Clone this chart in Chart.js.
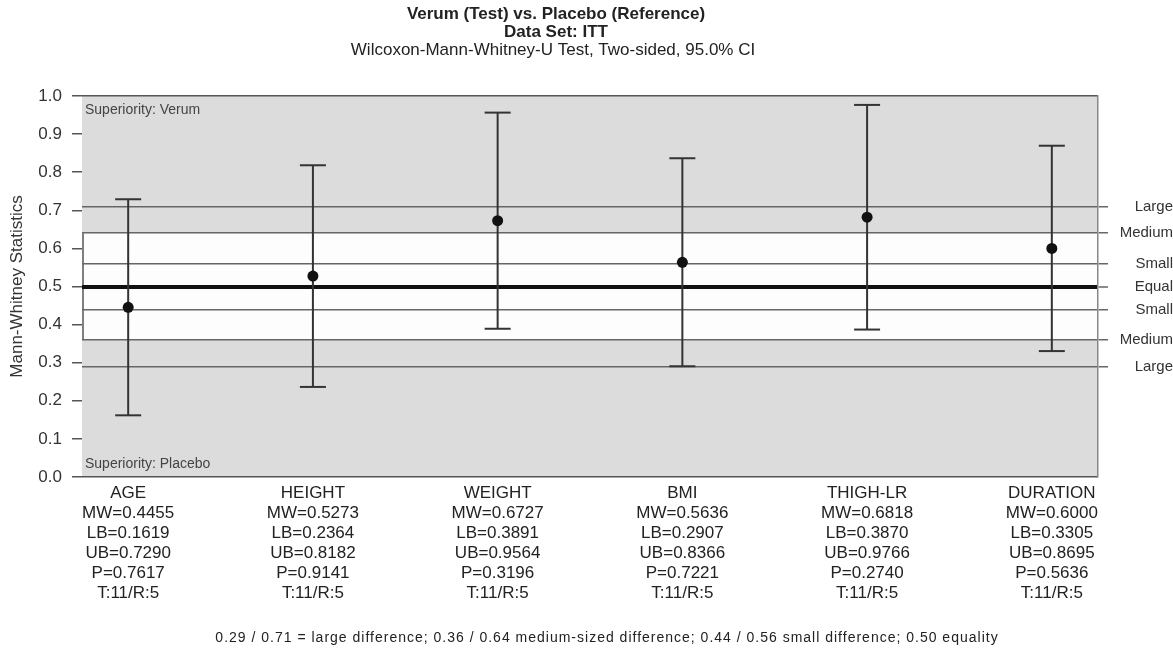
<!DOCTYPE html>
<html>
<head>
<meta charset="utf-8">
<script src="https://cdn.jsdelivr.net/npm/chart.js@4.4.1/dist/chart.umd.min.js"></script>
<style>
  body { margin: 0; background: #fff; }
  #wrap { width: 1173px; height: 652px; }
</style>
</head>
<body>
<div id="wrap"><canvas id="grafico-mw" width="1173" height="652"></canvas></div>
<script>
// data
const categories = ['AGE', 'HEIGHT', 'WEIGHT', 'BMI', 'THIGH-LR', 'DURATION'];
const mw = [0.4455, 0.5273, 0.6727, 0.5636, 0.6818, 0.6000];
const lb = [0.1619, 0.2364, 0.3891, 0.2907, 0.3870, 0.3305];
const ub = [0.7290, 0.8182, 0.9564, 0.8366, 0.9766, 0.8695];
const pValues = [0.7617, 0.9141, 0.3196, 0.7221, 0.2740, 0.5636];
const nTest = [11, 11, 11, 11, 11, 11];
const nRef = [5, 5, 5, 5, 5, 5];
const refLines = [0.29, 0.36, 0.44, 0.50, 0.56, 0.64, 0.71];
const refLabels = ['Large', 'Medium', 'Small', 'Equal', 'Small', 'Medium', 'Large'];
const bandLow = 0.36;
const bandHigh = 0.64;

const FONT = '"Liberation Sans", Arial, sans-serif';
Chart.defaults.font.family = FONT;
Chart.defaults.color = '#333';

const backgroundPlugin = {
    id: 'fundo',
    beforeDraw(chart) {
        const ctx = chart.ctx;
        const a = chart.chartArea;
        const y = chart.scales.y;
        ctx.save();
        ctx.fillStyle = '#dcdcdc';
        ctx.fillRect(a.left, a.top, a.right - a.left, a.bottom - a.top);
        let yTop = y.getPixelForValue(bandHigh);
        let yBot = y.getPixelForValue(bandLow);
        ctx.fillStyle = '#fdfdfd';
        ctx.fillRect(a.left, yTop, a.right - a.left, yBot - yTop);
        ctx.strokeStyle = '#555';
        ctx.lineWidth = 1.5;
        ctx.beginPath();
        ctx.moveTo(a.left + 1, yTop);
        ctx.lineTo(a.left + 1, yBot);
        ctx.stroke();
        ctx.restore();
    },
    beforeDatasetsDraw(chart) {
        const ctx = chart.ctx;
        const a = chart.chartArea;
        ctx.save();
        ctx.fillStyle = '#444';
        ctx.font = '14px ' + FONT;
        ctx.textAlign = 'left';
        ctx.textBaseline = 'alphabetic';
        ctx.fillText('Superiority: Verum', a.left + 3, a.top + 18);
        ctx.fillText('Superiority: Placebo', a.left + 3, a.bottom - 9);
        ctx.restore();
    },
    afterDraw(chart) {
        const ctx = chart.ctx;
        ctx.save();
        ctx.fillStyle = '#222';
        ctx.textAlign = 'center';
        ctx.textBaseline = 'middle';
        ctx.font = 'bold 17px ' + FONT;
        ctx.fillText('Verum (Test) vs. Placebo (Reference)', 556, 14);
        ctx.fillText('Data Set: ITT', 556, 32);
        ctx.font = '17px ' + FONT;
        ctx.fillText('Wilcoxon-Mann-Whitney-U Test, Two-sided, 95.0% CI', 553, 50);
        ctx.font = '14px ' + FONT;
        ctx.letterSpacing = '1px';
        ctx.fillText('0.29 / 0.71 = large difference; 0.36 / 0.64 medium-sized difference; 0.44 / 0.56 small difference; 0.50 equality', 607, 638);
        ctx.restore();
    }
};

const datasets = [{
    type: 'scatter',
    data: mw.map((v, i) => ({x: i, y: v})),
    pointRadius: 5.5,
    pointBackgroundColor: '#111',
    pointBorderWidth: 0,
    showLine: false
}];
categories.forEach((c, i) => {
    datasets.push({
        type: 'line',
        data: [{x: i, y: lb[i]}, {x: i, y: ub[i]}],
        borderColor: '#333',
        borderWidth: 2,
        pointStyle: 'line',
        pointRadius: 13,
        pointBorderWidth: 2,
        pointBorderColor: '#333'
    });
});

const config = {
    type: 'scatter',
    data: { datasets: datasets },
    plugins: [backgroundPlugin],
    options: {
        responsive: false,
        animation: false,
        events: [],
        layout: {
            padding: { left: 0, right: 0, top: 96, bottom: 0 }
        },
        plugins: {
            legend: false,
            tooltip: false
        },
        scales: {
            x: {
                type: 'linear',
                min: -0.25,
                max: 5.25,
                afterBuildTicks: function(scale) {
                    scale.ticks = categories.map((c, i) => ({value: i}));
                },
                afterFit: function(scale) {
                    scale.height = 175;
                },
                grid: { display: false, drawTicks: false },
                border: { display: false },
                ticks: {
                    autoSkip: false,
                    maxRotation: 0,
                    padding: 6,
                    color: '#222',
                    font: { size: 17, lineHeight: 20 / 17 },
                    callback: function(value, index) {
                        let i = Math.round(value);
                        return [
                            categories[i],
                            'MW=' + mw[i].toFixed(4),
                            'LB=' + lb[i].toFixed(4),
                            'UB=' + ub[i].toFixed(4),
                            'P=' + pValues[i].toFixed(4),
                            'T:' + nTest[i] + '/R:' + nRef[i]
                        ];
                    }
                }
            },
            y: {
                position: 'left',
                min: 0,
                max: 1,
                afterFit: function(scale) {
                    scale.width = 82;
                },
                title: {
                    display: true,
                    text: 'Mann-Whitney Statistics',
                    color: '#333',
                    font: { size: 17 },
                    padding: { top: 7, bottom: 0 }
                },
                border: { display: false },
                grid: {
                    color: function(ctx) {
                        return (ctx.tick.value === 0 || ctx.tick.value === 1) ? '#555' : 'rgba(0,0,0,0)';
                    },
                    tickColor: '#555',
                    lineWidth: 1.5,
                    tickWidth: 1.5,
                    tickLength: 10
                },
                ticks: {
                    stepSize: 0.1,
                    padding: 10,
                    color: '#333',
                    font: { size: 17 },
                    callback: function(v) { return v.toFixed(1); }
                }
            },
            y2: {
                position: 'right',
                min: 0,
                max: 1,
                afterBuildTicks: function(scale) {
                    scale.ticks = refLines.map(v => ({value: v}));
                },
                afterFit: function(scale) {
                    scale.width = 75;
                },
                border: { display: true, color: '#888', width: 1.5 },
                grid: {
                    color: function(ctx) {
                        return ctx.tick.value === 0.5 ? '#111' : '#666';
                    },
                    lineWidth: function(ctx) {
                        return ctx.tick.value === 0.5 ? 4 : 1.5;
                    },
                    tickColor: '#666',
                    tickWidth: 1.5,
                    tickLength: 10
                },
                ticks: {
                    autoSkip: false,
                    crossAlign: 'far',
                    padding: 9,
                    color: '#333',
                    font: { size: 15 },
                    callback: function(v, index) { return refLabels[index]; }
                }
            }
        }
    }
};

new Chart(document.getElementById('grafico-mw').getContext('2d'), config);
</script>
</body>
</html>
